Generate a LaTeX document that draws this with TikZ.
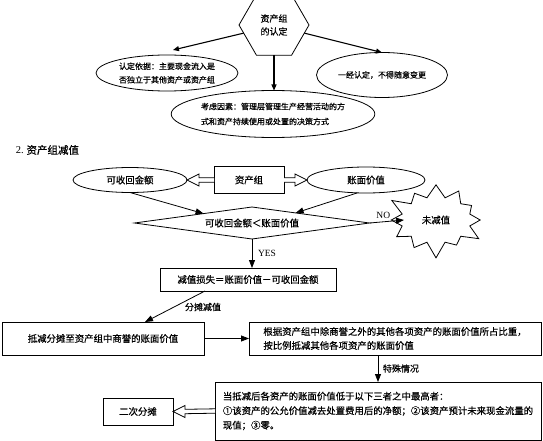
\documentclass[tikz,border=0pt]{standalone}
\usepackage{fontspec}
\setmainfont{Liberation Serif}
\newfontfamily\cjk{Noto Sans CJK SC}[FakeBold=0.5]
\usetikzlibrary{shapes.geometric,shapes.symbols,arrows.meta,calc}
\newcommand\harrow[3]{%
  \draw[hol] ($(#1)+(0,-2.2)$) -- ($(#2)+(#3*12,-2.2)$) -- ($(#2)+(#3*12,-6)$) -- (#2)
    -- ($(#2)+(#3*12,6)$) -- ($(#2)+(#3*12,2.2)$) -- ($(#1)+(0,2.2)$);}
\begin{document}
\begin{tikzpicture}[x=1pt,y=-1pt,
  every node/.style={inner sep=0pt, outer sep=0pt},
  t8/.style={font=\cjk\fontsize{8}{13.5}\selectfont},
  t9/.style={font=\cjk\fontsize{9.4}{14}\selectfont},
  shp/.style={draw, line width=0.8pt},
  ell/.style={shp, ellipse},
  boxn/.style={shp, rectangle},
  hol/.style={line width=0.8pt, fill=white},
  arr/.style={line width=0.8pt, -{Triangle[length=8pt,width=6pt]}},
  arrtop/.style={line width=1.1pt, -{Triangle[length=6pt,width=5pt]}},
  lbl/.style={font=\cjk\fontsize{9}{11}\selectfont},
  lat/.style={font=\fontsize{9.5}{11}\selectfont},
]
\useasboundingbox[fill=white] (0,0) rectangle (543,441);

% ---- part 1 ----
\node[shp, regular polygon, regular polygon sides=6, minimum size=70pt, align=center,
      font=\cjk\fontsize{9}{13}\selectfont] (hex) at (274,25) {资产组\\的认定};
\node[ell, t8, align=left, minimum width=142pt, minimum height=36pt] (e1) at (167,73)
  {认定依据：主要现金流入是\\否独立于其他资产或资产组};
\node[ell, t8, minimum width=131pt, minimum height=45pt] (e2) at (382,75)
  {一经认定，不得随意变更};
\node[ell, align=left, font=\cjk\fontsize{8}{15}\selectfont, minimum width=203pt, minimum height=47pt] (e3) at (273,114)
  {考虑因素：管理层管理生产经营活动的方\\式和资产持续使用或处置的决策方式};
\draw[arrtop] (hex.195) -- ($(e1.north)+(6,-5)$);
\draw[arrtop] (hex.-15) -- (e2.north);
\draw[arrtop] (hex.south) -- (hex.south |- e3.north);

% ---- part 2 ----
\node[anchor=west, font=\fontsize{10.5}{12}\selectfont] (title) at (16,150) {2.\ {\cjk 资产组减值}};
\node[ell, t9, minimum width=114pt, minimum height=25pt] (kh) at (130,180) {可收回金额};
\node[boxn, t9, minimum width=70pt, minimum height=27pt] (zcz) at (249,180) {资产组};
\node[ell, t9, minimum width=118pt, minimum height=26pt] (zm) at (366,180) {账面价值};
\node[shp, diamond, t9, shape aspect=7.3, minimum width=235pt, minimum height=32pt] (dia) at (252,223)
  {可收回金额＜账面价值};
\node[shp, starburst, starburst points=12, starburst point height=17pt,
      minimum width=104pt, minimum height=80pt, t9] (star) at (436,220) {未减值};
\node[boxn, t9, minimum width=176pt, minimum height=23pt] (loss) at (248,279.5)
  {减值损失＝账面价值－可收回金额};
\node[boxn, t9, minimum width=202pt, minimum height=33pt] (dj) at (103,338.5)
  {抵减分摊至资产组中商誉的账面价值};
\node[boxn, t9, align=left, minimum width=292pt, minimum height=33pt] (gj) at (395,338.5)
  {根据资产组中除商誉之外的其他各项资产的账面价值所占比重，\\按比例抵减其他各项资产的账面价值};
\node[boxn, align=left, font=\cjk\fontsize{9.4}{14.5}\selectfont, minimum width=326pt, minimum height=58pt] (big) at (378,411)
  {当抵减后各资产的账面价值低于以下三者之中最高者：\\①该资产的公允价值减去处置费用后的净额；②该资产预计未来现金流量的\\现值；③零。};
\node[boxn, t9, minimum width=70pt, minimum height=27pt] (ec) at (138,411.5) {二次分摊};

\harrow{zcz.west}{kh.east}{1}
\harrow{zcz.east}{zm.west}{-1}
\harrow{big.west}{ec.east}{1}

\draw[arr] (kh.south) -- (dia.169);
\draw[arr] ($(zm.south)+(-9,0)$) -- (dia.13);
\draw[arr] (dia.east) -- ($(star.center)+(-32,0)$) node[pos=0.4, above=3pt, lat] {NO};
\draw[arr] (dia.south) -- (dia.south |- loss.north) node[midway, right=6pt, lat] {YES};
\draw[arr] ($(loss.south west)+(45,0)$) -- ($(dj.north west)+(143,0)$);
\node[lbl, anchor=west] (fl) at (185,307) {分摊减值};
\draw[arr] (dj.east) -- (gj.west);
\draw[arr] ($(gj.south west)+(129,0)$) -- ($(big.north west)+(163,0)$) node[midway, right=5pt, lbl] {特殊情况};
\end{tikzpicture}
\end{document}
